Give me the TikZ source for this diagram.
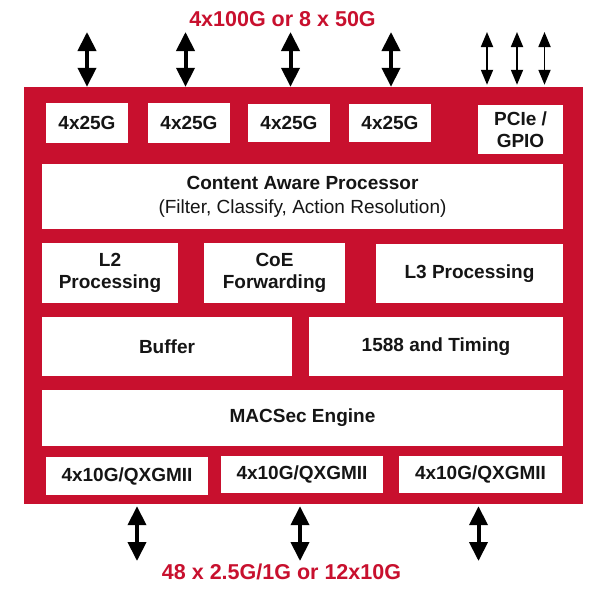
\documentclass[tikz,border=0pt]{standalone}
\usepackage{fontspec}
\setmainfont{Liberation Sans}
\usetikzlibrary{arrows.meta}
\definecolor{chipred}{HTML}{C8102E}
\definecolor{ink}{HTML}{151515}
\begin{document}
\begin{tikzpicture}[x=1pt,y=-1pt,
  blk/.style={fill=white, draw=none, inner sep=0pt, align=center,
    font=\fontsize{19}{22}\selectfont\bfseries, text=ink},
  bigarrow/.style={line width=4pt,
    {Triangle[width=18pt,length=19pt]}-{Triangle[width=18pt,length=19pt]}},
  thinarrow/.style={line width=1.8pt,
    {Triangle[width=12pt,length=15pt]}-{Triangle[width=12pt,length=15pt]}},
  lbl/.style={text=chipred, font=\fontsize{21.5}{24}\selectfont\bfseries,
    inner sep=0pt, anchor=base}]
\path[use as bounding box] (0,0) rectangle (612,589);

% chip body
\node[fill=chipred, inner sep=0pt, minimum width=559, minimum height=417] (chip) at (303.5,295.5) {};

% top row
\node[blk, minimum width=82, minimum height=40] (p1) at (87,123) {4x25G};
\node[blk, minimum width=82, minimum height=40] (p2) at (189,123) {4x25G};
\node[blk, minimum width=82, minimum height=38] (p3) at (289,123) {4x25G};
\node[blk, minimum width=82, minimum height=38] (p4) at (390,123) {4x25G};
\node[blk, minimum width=85, minimum height=49] (pcie) at (520.5,129.5) {PCIe /\\GPIO};

% content aware processor
\node[blk, minimum width=521, minimum height=65, font=\fontsize{19}{24}\selectfont] (cap) at (302.5,196.5)
  {\bfseries Content Aware Processor\\(Filter, Classify, Action Resolution)};

% processing row
\node[blk, minimum width=136, minimum height=60] (l2) at (110,273) {L2\\Processing};
\node[blk, minimum width=141, minimum height=60] (coe) at (274.5,273) {CoE\\Forwarding};
\node[blk, minimum width=187, minimum height=59] (l3) at (469.5,273.5) {L3 Processing};

% buffer row
\node[blk, minimum width=250, minimum height=59] (buf) at (167,346.5) {Buffer};
\node[blk, minimum width=254, minimum height=59] (tim) at (436,346.5) {1588 and Timing};

% macsec
\node[blk, minimum width=521, minimum height=56] (mac) at (302.5,418) {MACSec Engine};

% bottom row
\node[blk, minimum width=162, minimum height=38] (q1) at (127,476) {4x10G/QXGMII};
\node[blk, minimum width=162, minimum height=37] (q2) at (302,474) {4x10G/QXGMII};
\node[blk, minimum width=163, minimum height=37] (q3) at (480.5,474) {4x10G/QXGMII};

% top arrows
\coordinate (t1) at (87,32);
\coordinate (t2) at (185.5,32);
\coordinate (t3) at (290.5,32);
\coordinate (t4) at (391,32);
\foreach \c in {t1,t2,t3,t4}{
  \draw[bigarrow] (\c) -- (\c |- chip.north);
}
\coordinate (s1) at (487,32);
\coordinate (s2) at (517,32);
\coordinate (s3) at (544.5,32);
\foreach \c in {s1,s2,s3}{
  \draw[thinarrow] (\c) -- ([yshift=2pt]\c |- chip.north);
}

% bottom arrows
\coordinate (b1) at (137,561);
\coordinate (b2) at (300,561);
\coordinate (b3) at (478.5,561);
\foreach \c in {b1,b2,b3}{
  \draw[bigarrow] ([yshift=-2pt]\c |- chip.south) -- (\c);
}

% labels
\node[lbl] (toplbl) at (282.5,26.5) {4x100G or 8 x 50G};
\node[lbl] (botlbl) at (281.5,579) {48 x 2.5G/1G or 12x10G};
\end{tikzpicture}
\end{document}
